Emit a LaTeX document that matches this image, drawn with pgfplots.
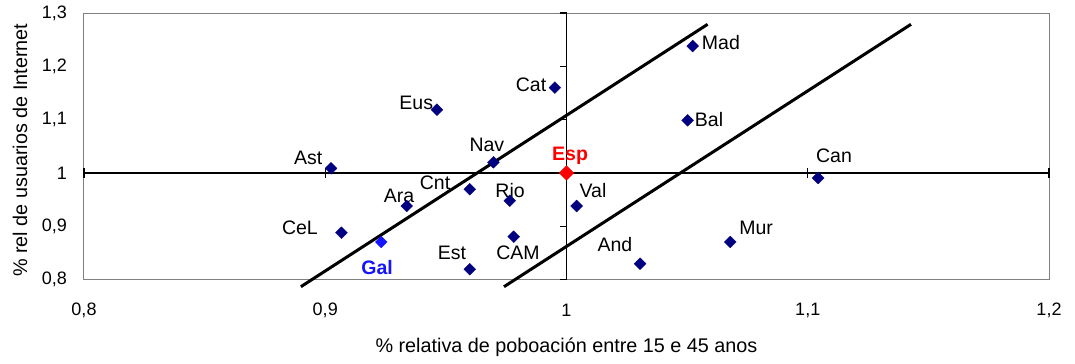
\documentclass[border=0pt]{standalone}
\usepackage{pgfplots}
\pgfplotsset{compat=1.18}
\usepackage{fontspec}
\setmainfont{Liberation Sans}
\definecolor{navy}{RGB}{0,0,128}
\definecolor{galblue}{RGB}{20,20,255}
\definecolor{framegray}{RGB}{128,128,128}
\tikzset{lbl/.style={font=\fontsize{19.5bp}{21bp}\selectfont, inner sep=0pt, anchor=center}}
\begin{document}
\begin{tikzpicture}
\path[use as bounding box] (-84bp,-84.5bp) rectangle (991bp,279.5bp);
\begin{axis}[
  scale only axis, width=965bp, height=266.5bp,
  xmin=0.8, xmax=1.2, ymin=0.8, ymax=1.3,
  clip=false,
  axis line style={draw=framegray, line width=1bp},
  xtick={0.8,0.9,1,1.1,1.2}, xticklabels={{0,8},{0,9},1,{1,1},{1,2}},
  ytick={0.8,0.9,1,1.1,1.2,1.3}, yticklabels={{0,8},{0,9},1,{1,1},{1,2},{1,3}},
  major tick length=0pt,
  tick label style={font=\fontsize{18bp}{20bp}\selectfont, inner sep=0pt},
  xticklabel style={anchor=center, yshift=-30.5bp},
  yticklabel style={anchor=east, xshift=-17bp},
  xlabel={\% relativa de poboación entre 15 e 45 anos},
  ylabel={\% rel de usuarios de Internet},
  label style={font=\fontsize{19.8bp}{21bp}\selectfont, inner sep=0pt},
  xlabel style={at={(axis description cs:0.5,-0.255)}, anchor=center},
  ylabel style={at={(axis description cs:-0.0663,0.485)}, anchor=center},
]
% crossing reference axes
\draw[black, line width=1.3bp] (axis cs:0.8,1) -- (axis cs:1.2,1);
\draw[black, line width=1.3bp] (axis cs:1,0.8) -- (axis cs:1,1.3);
\pgfplotsinvokeforeach{0.8,0.9,1.1,1.2}{
  \draw[black, line width=1.3bp] ([yshift=-5.5bp]axis cs:#1,1) -- ([yshift=5bp]axis cs:#1,1);
}
\pgfplotsinvokeforeach{0.8,0.9,1.1,1.2,1.3}{
  \draw[black, line width=1.3bp] ([xshift=-7bp]axis cs:1,#1) -- (axis cs:1,#1);
}
% trend lines
\addplot[black, line width=3bp, mark=none] coordinates {(0.8899,0.7865) (1.0585,1.2788)};
\addplot[black, line width=3bp, mark=none] coordinates {(0.9741,0.7865) (1.1428,1.2788)};
% regions
\addplot[only marks, mark=square*, mark size=4.2bp, mark options={rotate=45, fill=navy, draw=navy, line width=0.3bp}] coordinates {
(1.0523,1.238) (0.9952,1.160) (0.9463,1.1186) (1.0502,1.0987) (0.9697,1.0199)
(0.9024,1.0086) (0.9067,0.8878) (0.9338,0.9379) (0.9599,0.9692) (0.9765,0.9478)
(1.0042,0.9379) (0.9781,0.8803) (0.9599,0.8191) (1.0305,0.8296) (1.0679,0.8704)
(1.1043,0.9904)};
\addplot[only marks, mark=square*, mark size=4.2bp, mark options={rotate=45, fill=galblue, draw=galblue, line width=0.3bp}] coordinates {(0.9232,0.8704)};
\addplot[only marks, mark=square*, mark size=5.2bp, mark options={rotate=45, fill=red, draw=red, line width=0.3bp}] coordinates {(1,1)};
% labels
\node[lbl] at (axis cs:1.0640,1.2437) {Mad};
\node[lbl] at (axis cs:0.9853,1.1662) {Cat};
\node[lbl] at (axis cs:0.9377,1.1311) {Eus};
\node[lbl] at (axis cs:1.0591,1.0992) {Bal};
\node[lbl] at (axis cs:0.9670,1.0523) {Nav};
\node[lbl, text=red, font=\fontsize{19.5bp}{21bp}\selectfont\bfseries] at (axis cs:1.0015,1.0317) {Esp};
\node[lbl] at (axis cs:0.8929,1.0280) {Ast};
\node[lbl] at (axis cs:1.1109,1.0317) {Can};
\node[lbl] at (axis cs:0.8895,0.8966) {CeL};
\node[lbl] at (axis cs:0.9306,0.9567) {Ara};
\node[lbl] at (axis cs:0.9455,0.9811) {Cnt};
\node[lbl] at (axis cs:0.9766,0.9660) {Rio};
\node[lbl] at (axis cs:1.0110,0.9660) {Val};
\node[lbl, text=galblue, font=\fontsize{19.5bp}{21bp}\selectfont\bfseries] at (axis cs:0.9215,0.8216) {Gal};
\node[lbl] at (axis cs:0.9525,0.8497) {Est};
\node[lbl] at (axis cs:0.9799,0.8497) {CAM};
\node[lbl] at (axis cs:1.0201,0.8647) {And};
\node[lbl] at (axis cs:1.0786,0.8966) {Mur};
\end{axis}
\end{tikzpicture}
\end{document}
